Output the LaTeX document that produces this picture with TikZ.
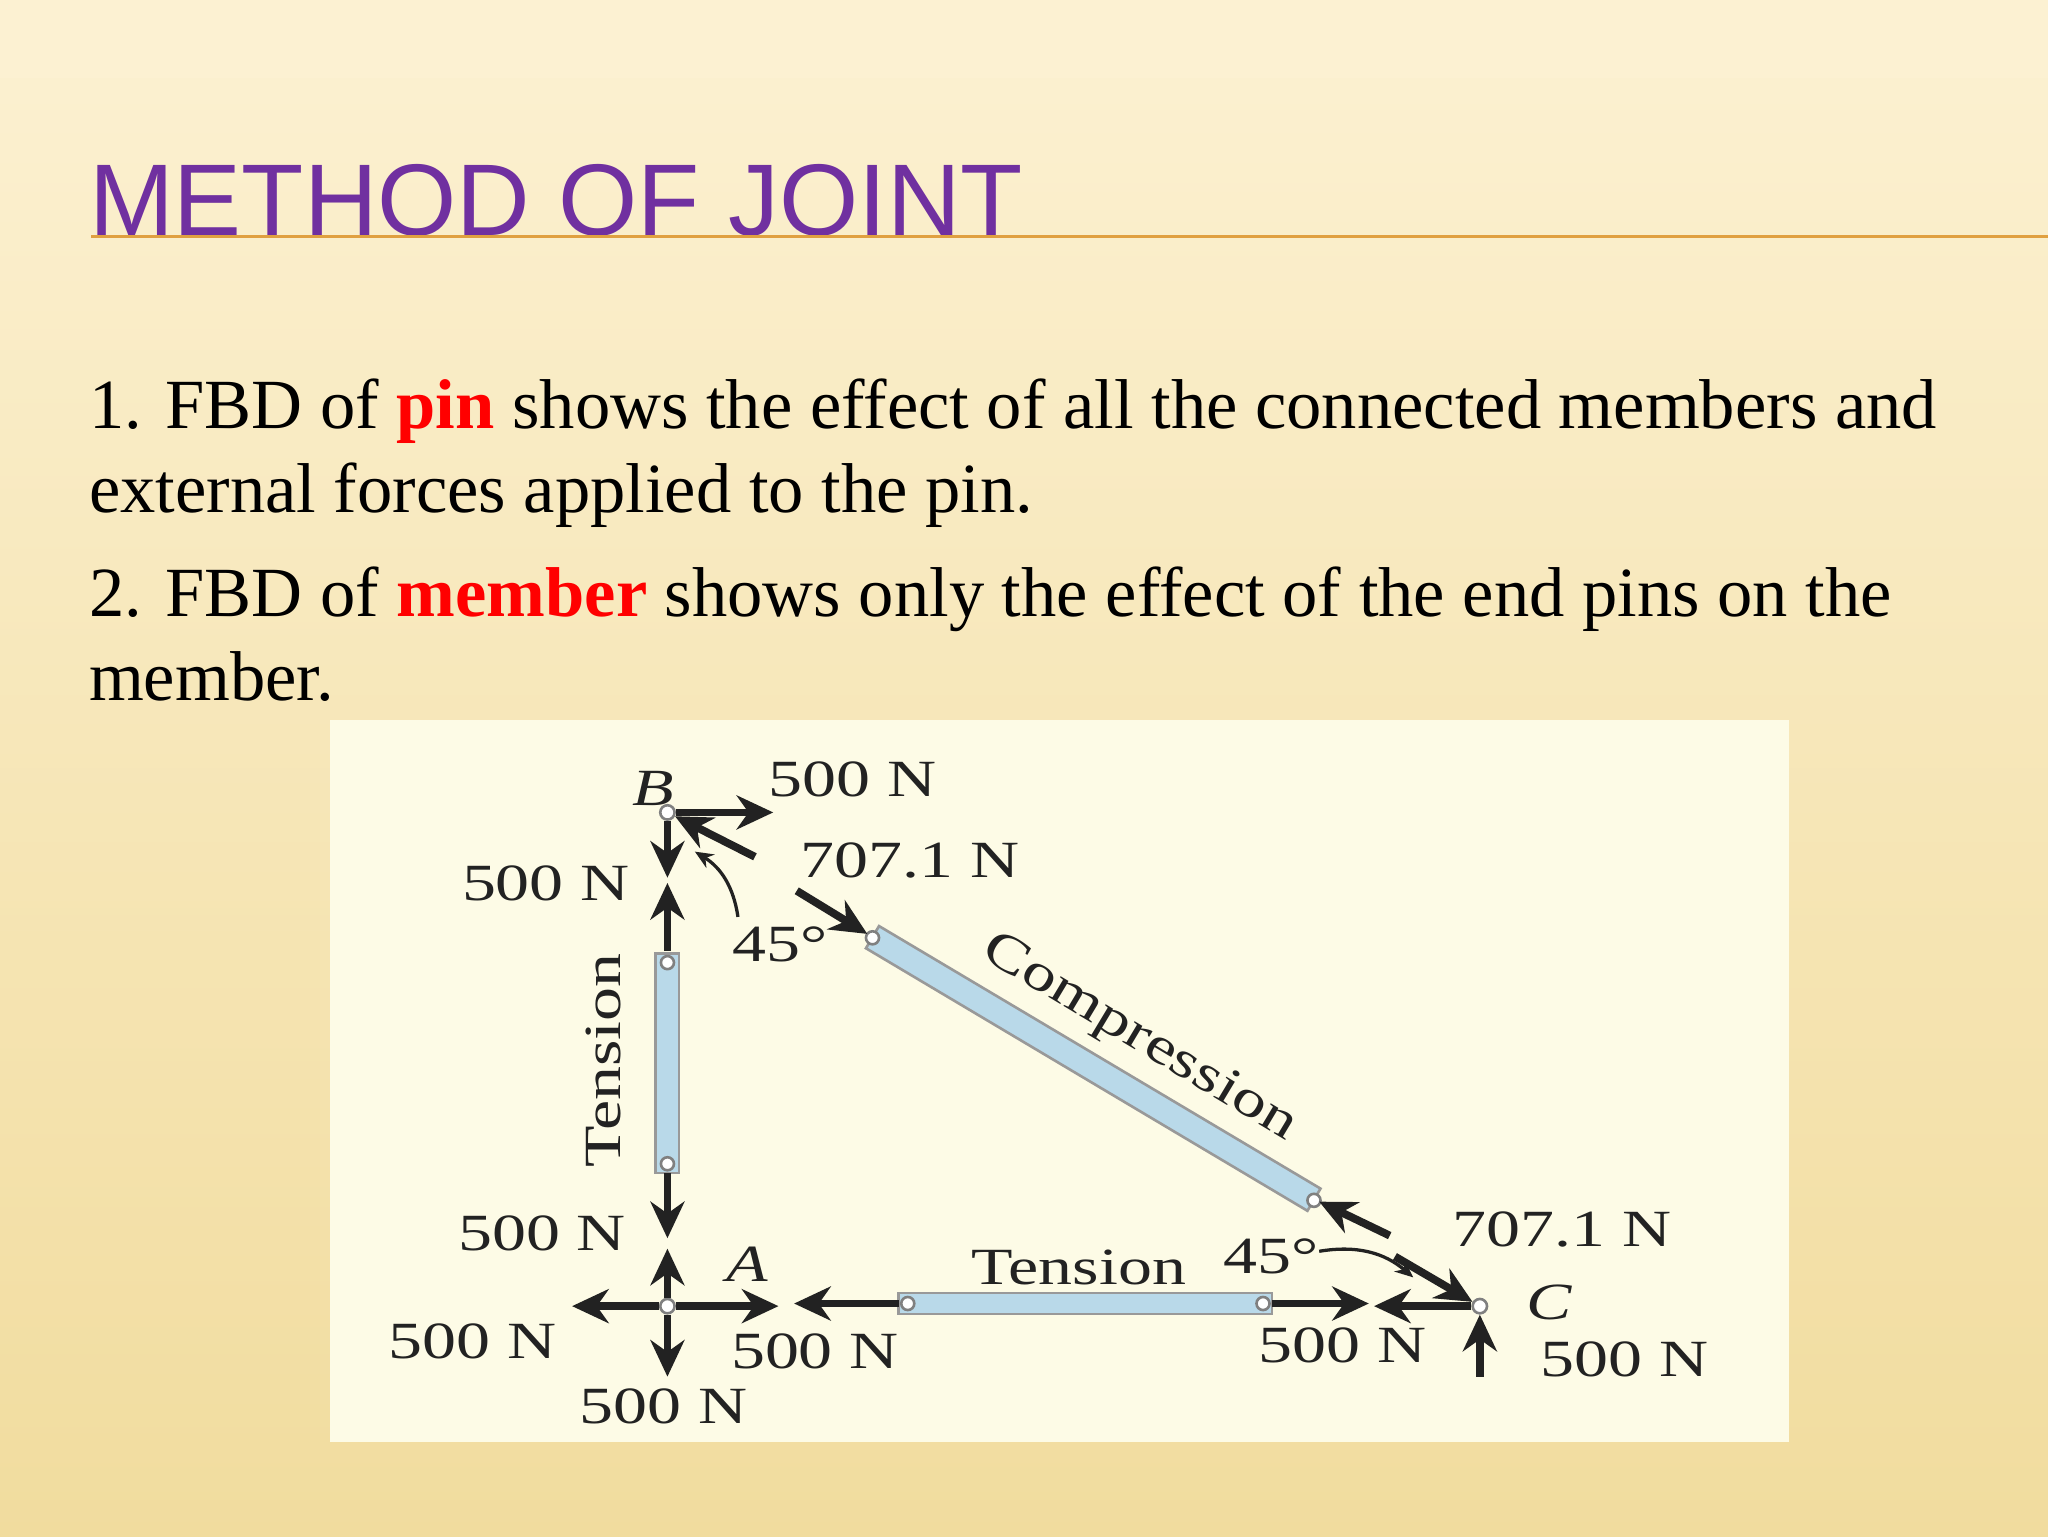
\documentclass[tikz,border=0pt]{standalone}
\usepackage{fontspec}
\setmainfont{Liberation Serif}
\newfontfamily\titlefont{Liberation Sans}
\usetikzlibrary{arrows.meta}
\definecolor{bgtop}{HTML}{FCF1D2}
\definecolor{bgbot}{HTML}{F1DC9E}
\definecolor{panel}{HTML}{FDFBE6}
\definecolor{member}{HTML}{B9D9E9}
\definecolor{titlec}{HTML}{7030A0}
\definecolor{rule}{HTML}{E0A040}
\definecolor{ink}{HTML}{222222}
\newcommand{\lb}[1]{\scalebox{1.3}[1]{#1}}
\tikzset{
  frc/.style={ink,line width=6pt,-{Stealth[length=28pt,width=26pt]}},
  memb/.style={draw=gray!80,line width=2pt,fill=member},
  pinc/.style={circle,draw=gray,fill=white,inner sep=0pt,minimum size=11pt,line width=2pt},
  lab/.style={text=ink,font=\fontsize{40}{44}\selectfont,inner sep=0pt},
  ilab/.style={text=ink,font=\fontsize{40}{44}\selectfont\itshape,inner sep=0pt},
  arcl/.style={ink,line width=2.5pt,-{Stealth[length=14pt,width=12pt]}}
}
\begin{document}
\begin{tikzpicture}[x=1pt,y=-1pt]
\useasboundingbox (0,0) rectangle (1568,1176);
\shade[top color=bgtop,bottom color=bgbot] (0,0) rectangle (1568,1176);
\fill[bgtop] (0,0) rectangle (1568,60);
\node[anchor=base west,inner sep=0pt,text=titlec,font=\titlefont\fontsize{78}{84}\selectfont] (title) at (68,180) {METHOD OF JOINT};
\coordinate (r1) at (70,181); \coordinate (r2) at (1568,181);
\draw[rule,line width=2pt] (r1) -- (r2);
\begin{scope}[every node/.style={anchor=base west,inner sep=0pt,font=\fontsize{54}{58}\selectfont}]
\node (l1) at (68,328) {1. FBD of \textcolor{red}{\textbf{pin}} shows the effect of all the connected members and};
\node (l2) at (68,392) {external forces applied to the pin.};
\node (l3) at (68,472) {2. FBD of \textcolor{red}{\textbf{member}} shows only the effect of the end pins on the};
\node (l4) at (68,536) {member.};
\end{scope}
\fill[panel] (253,551) rectangle (1370,1104);
% members
\draw[memb] (502,730) rectangle (520,898);
\draw[memb] (688,990) rectangle (974,1006);
\draw[memb] (673,709) -- (1011,910) -- (1001,927) -- (663,726) -- cycle;
\foreach \p in {(511,737),(511,891),(695,998),(967,998),(668,718),(1006,919)} \node[pinc,minimum size=10pt] at \p {};
% joints
\node[pinc] (B) at (511,622) {};
\node[pinc] (A) at (511,1000) {};
\node[pinc] (C) at (1133,1000) {};
% arrows at B
\coordinate (Br) at (592,622); \draw[frc] (B) -- (Br);
\coordinate (Bd) at (511,672); \draw[frc] (B) -- (Bd);
\coordinate (Bs) at (578,656); \draw[frc] (Bs) -- (B);
\coordinate (v1) at (511,728); \coordinate (v1t) at (511,676); \draw[frc] (v1) -- (v1t);
\coordinate (d1) at (610,682); \coordinate (d1t) at (664,715); \draw[frc] (d1) -- (d1t);
\coordinate (a1s) at (565,702); \coordinate (a1e) at (532,652);
\draw[arcl] (a1s) to[bend right=25] (a1e);
% vertical bottom
\coordinate (v2) at (511,898); \coordinate (v2t) at (511,948); \draw[frc] (v2) -- (v2t);
% at A
\coordinate (Au) at (511,956); \draw[frc] (A) -- (Au);
\coordinate (Al) at (438,1000); \draw[frc] (A) -- (Al);
\coordinate (Ar) at (596,1000); \draw[frc] (A) -- (Ar);
\coordinate (Ad) at (511,1054); \draw[frc] (A) -- (Ad);
% horizontal member
\coordinate (h1) at (688,998); \coordinate (h1t) at (608,998); \draw[frc] (h1) -- (h1t);
\coordinate (h2) at (974,998); \coordinate (h2t) at (1048,998); \draw[frc] (h2) -- (h2t);
% at C
\coordinate (Cl) at (1052,1000); \draw[frc] (C) -- (Cl);
\coordinate (Cs) at (1068,962); \draw[frc] (Cs) -- (C);
\coordinate (Cu) at (1133,1054); \draw[frc] (Cu) -- (C);
\coordinate (d2) at (1064,946); \coordinate (d2t) at (1010,920); \draw[frc] (d2) -- (d2t);
\coordinate (a2s) at (1010,958); \coordinate (a2e) at (1082,978);
\draw[arcl] (a2s) to[bend left=25] (a2e);
% labels
\node[ilab] (lB) at (500,604) {\lb{B}};
\node[lab] (t1) at (653,597) {\lb{500 N}};
\node[lab] (t2) at (418,676) {\lb{500 N}};
\node[lab] (t3) at (697,659) {\lb{707.1 N}};
\node[lab] (t4) at (597,723) {\lb{45°}};
\node[lab,rotate=-31] (t5) at (872,795) {\lb{Compression}};
\node[lab,rotate=90] (t6) at (462,812) {\lb{Tension}};
\node[lab] (t7) at (415,944) {\lb{500 N}};
\node[ilab] (lA) at (572,968) {\lb{A}};
\node[lab] (t8) at (362,1027) {\lb{500 N}};
\node[lab] (t9) at (624,1035) {\lb{500 N}};
\node[lab] (t10) at (508,1077) {\lb{500 N}};
\node[lab] (t11) at (826,970) {\lb{Tension}};
\node[lab] (t12) at (973,962) {\lb{45°}};
\node[lab] (t13) at (1196,941) {\lb{707.1 N}};
\node[ilab] (lC) at (1186,997) {\lb{C}};
\node[lab] (t14) at (1028,1030) {\lb{500 N}};
\node[lab] (t15) at (1244,1041) {\lb{500 N}};
\end{tikzpicture}
\end{document}
